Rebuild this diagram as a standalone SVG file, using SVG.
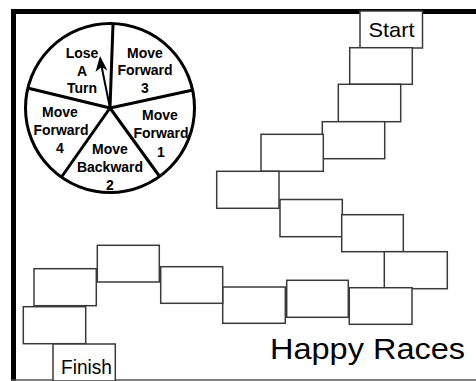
<svg xmlns="http://www.w3.org/2000/svg" width="476" height="381" viewBox="0 0 476 381">
<style>
.box{fill:#fff;stroke:#3a3a3a;stroke-width:1.5}
.wl{fill:none;stroke:#000;stroke-width:3}
.wt{font-family:"Liberation Sans",Arial,sans-serif;font-weight:bold;font-size:14px;fill:#000;text-anchor:middle}
.lbl{font-family:"Liberation Sans",Arial,sans-serif;fill:#000}
</style>
<rect width="476" height="381" fill="#fff"/>
<g id="border">
<line x1="11" y1="11.5" x2="476" y2="11.5" stroke="#000" stroke-width="5"/>
<line x1="13.5" y1="9" x2="13.5" y2="381" stroke="#000" stroke-width="5"/>
<line x1="11" y1="380" x2="476" y2="380" stroke="#555" stroke-width="1.5"/>
</g>
<g id="spinner">
<circle class="wl" cx="110" cy="108" r="84.5"/>
<line class="wl" x1="110" y1="108" x2="113" y2="24"/>
<line class="wl" x1="110" y1="108" x2="193" y2="90"/>
<line class="wl" x1="110" y1="108" x2="160" y2="177"/>
<line class="wl" x1="110" y1="108" x2="61.5" y2="177"/>
<line class="wl" x1="110" y1="108" x2="27.5" y2="88"/>
<line x1="110" y1="108" x2="101.5" y2="66" stroke="#000" stroke-width="2"/>
<polygon points="100,56 95.5,72 101.5,67 107.5,70.5" fill="#000"/>
<text class="wt" x="82" y="58">Lose</text>
<text class="wt" x="82" y="75.5">A</text>
<text class="wt" x="82" y="93">Turn</text>
<text class="wt" x="145" y="57.5">Move</text>
<text class="wt" x="145" y="75">Forward</text>
<text class="wt" x="145" y="92.5">3</text>
<text class="wt" x="160" y="120">Move</text>
<text class="wt" x="161" y="138">Forward</text>
<text class="wt" x="161" y="156.5">1</text>
<text class="wt" x="110" y="154">Move</text>
<text class="wt" x="110" y="172">Backward</text>
<text class="wt" x="110" y="190">2</text>
<text class="wt" x="60" y="116.5">Move</text>
<text class="wt" x="61" y="135">Forward</text>
<text class="wt" x="60" y="153">4</text>
</g>
<g id="start">
<rect class="box" x="360" y="11" width="62.5" height="37"/>
<text class="lbl" x="391.5" y="36.5" font-size="21" text-anchor="middle" textLength="46" lengthAdjust="spacingAndGlyphs">Start</text>
</g>
<g id="space1"><rect class="box" x="349.7" y="47.7" width="62.6" height="36.6"/></g>
<g id="space2"><rect class="box" x="338.3" y="84.3" width="62.4" height="37.4"/></g>
<g id="space3"><rect class="box" x="322.3" y="121.7" width="62.4" height="37"/></g>
<g id="space4"><rect class="box" x="261" y="134.3" width="62.3" height="37"/></g>
<g id="space5"><rect class="box" x="216.7" y="171.3" width="62.3" height="37"/></g>
<g id="space6"><rect class="box" x="280" y="199.5" width="62.3" height="37.2"/></g>
<g id="space7"><rect class="box" x="341.7" y="214.7" width="61.6" height="37"/></g>
<g id="space8"><rect class="box" x="384.3" y="251.7" width="63" height="37"/></g>
<g id="space9"><rect class="box" x="349.3" y="287.7" width="62.7" height="36.6"/></g>
<g id="space10"><rect class="box" x="286.7" y="280.3" width="61.6" height="37"/></g>
<g id="space11"><rect class="box" x="222.7" y="287" width="62.6" height="36.3"/></g>
<g id="space12"><rect class="box" x="160.7" y="266.7" width="62" height="36.6"/></g>
<g id="space13"><rect class="box" x="97.3" y="245.3" width="62" height="36.7"/></g>
<g id="space14"><rect class="box" x="34" y="268.7" width="62.3" height="37"/></g>
<g id="space15"><rect class="box" x="23.3" y="306.7" width="62.4" height="37"/></g>
<g id="finish">
<rect class="box" x="53" y="344" width="62.3" height="37"/>
<text class="lbl" x="86.5" y="374" font-size="21" text-anchor="middle" textLength="51" lengthAdjust="spacingAndGlyphs">Finish</text>
</g>
<g id="title">
<text class="lbl" x="367.5" y="358.5" font-size="30" text-anchor="middle" textLength="195" lengthAdjust="spacingAndGlyphs">Happy Races</text>
</g>
</svg>
